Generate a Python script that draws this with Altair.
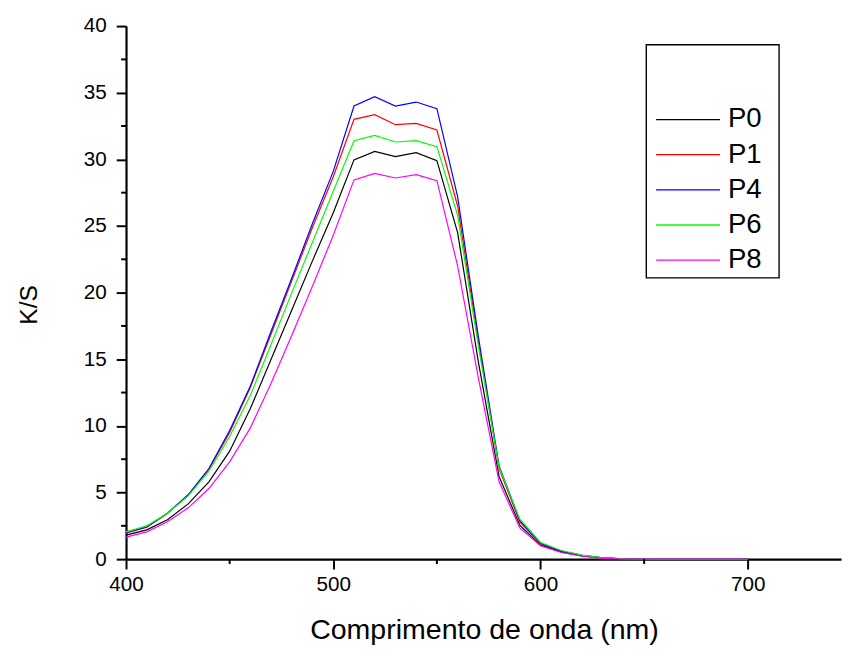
import altair as alt
import pandas as pd

wavelength = list(range(400, 701, 10))
series = ["P0", "P1", "P4", "P6", "P8"]
colors = ["#000000", "#ff0000", "#0000ff", "#00ff00", "#ff00ff"]

p0 = [1.8, 2.2, 2.95, 4.15, 5.8, 8.1, 11.3, 15.0, 18.7, 22.4, 26.0, 29.96, 30.6, 30.2, 30.5, 29.9,
      24.5, 14.8, 6.2, 2.55, 1.05, 0.55, 0.25, 0.08, 0.02, 0.01, 0, 0, 0, 0, 0]
p1 = [1.95, 2.4, 3.45, 4.8, 6.75, 9.5, 12.9, 16.9, 20.9, 24.9, 28.7, 33.0, 33.35, 32.6, 32.7, 32.2,
      26.5, 16.3, 6.8, 2.8, 1.15, 0.6, 0.28, 0.09, 0.02, 0.01, 0, 0, 0, 0, 0]
p4 = [2.0, 2.42, 3.45, 4.83, 6.8, 9.65, 13.0, 17.1, 21.1, 25.2, 29.1, 34.0, 34.7, 34.0, 34.3, 33.8,
      27.2, 16.7, 7.0, 2.9, 1.2, 0.6, 0.28, 0.09, 0.02, 0.01, 0, 0, 0, 0, 0]
p6 = [2.05, 2.5, 3.45, 4.75, 6.6, 9.2, 12.3, 16.1, 20.0, 23.8, 27.6, 31.4, 31.8, 31.3, 31.4, 30.95,
      25.8, 16.0, 6.9, 3.0, 1.25, 0.65, 0.3, 0.1, 0.03, 0.01, 0, 0, 0, 0, 0]
p8 = [1.65, 2.05, 2.8, 3.85, 5.3, 7.3, 9.85, 13.2, 16.8, 20.5, 24.3, 28.46, 28.95, 28.6, 28.85, 28.4,
      22.0, 13.6, 5.8, 2.35, 1.0, 0.5, 0.22, 0.06, 0.01, 0, 0, 0, 0, 0, 0]
values = {"P0": p0, "P1": p1, "P4": p4, "P6": p6, "P8": p8}

x_ticks = [400, 500, 600, 700]
x_minor = [450, 550, 650]
y_ticks = [0, 5, 10, 15, 20, 25, 30, 35, 40]
y_minor = [2.5, 7.5, 12.5, 17.5, 22.5, 27.5, 32.5, 37.5]

rows = []
for s in series:
    for w, v in zip(wavelength, values[s]):
        rows.append({"nm": w, "ks": v, "series": s})
df = pd.DataFrame(rows)

FONT = "Liberation Sans"
W, H = 727, 542

xscale = alt.Scale(domain=[400, 745], nice=False, zero=False)
yscale = alt.Scale(domain=[0, 40], nice=False)
cscale = alt.Scale(domain=series, range=colors)

xaxis = alt.Axis(values=x_ticks, tickSize=10, tickWidth=2, tickColor="black",
                 domainWidth=2.2, domainColor="black", labelFontSize=21, labelFont=FONT,
                 labelColor="black", labelPadding=5, labelFlush=False, grid=False,
                 title="Comprimento de onda (nm)", titleFont=FONT, titleFontSize=29,
                 titleFontWeight="normal", titleColor="black", titleX=364, titleY=72,
                 titleBaseline="middle", titleAlign="center")
yaxis = alt.Axis(values=y_ticks, tickSize=10, tickWidth=2, tickColor="black",
                 domainWidth=2.2, domainColor="black", labelFontSize=21, labelFont=FONT,
                 labelColor="black", labelPadding=10, grid=False,
                 title="K/S", titleFont=FONT, titleFontSize=25, titleFontWeight="normal",
                 titleColor="black", titleX=-99, titleY=283, titleAngle=270,
                 titleBaseline="middle", titleAlign="center")

lines = alt.Chart(df).mark_line(strokeWidth=1.2).encode(
    x=alt.X("nm:Q", scale=xscale, axis=xaxis),
    y=alt.Y("ks:Q", scale=yscale, axis=yaxis),
    color=alt.Color("series:N", scale=cscale, legend=None),
)

xminor = alt.Chart(pd.DataFrame({"nm": x_minor})).mark_rule(strokeWidth=2, color="black").encode(
    x=alt.X("nm:Q", scale=xscale),
    y=alt.value(H), y2=alt.value(H + 5),
)
yminor = alt.Chart(pd.DataFrame({"ks": y_minor})).mark_rule(strokeWidth=2, color="black").encode(
    y=alt.Y("ks:Q", scale=yscale),
    x=alt.value(0), x2=alt.value(-5),
)

main = alt.layer(lines, xminor, yminor)

leg_df = pd.DataFrame({"series": series})
legscale = alt.Scale(type="point", domain=series, range=[95, 238], padding=0)

box = alt.Chart(pd.DataFrame({"b": [0]})).mark_rect(
    fillOpacity=0, stroke="black", strokeWidth=1.4
).encode(x=alt.value(529), x2=alt.value(664), y=alt.value(19), y2=alt.value(256))

leg_lines = alt.Chart(leg_df).mark_rule(strokeWidth=1.3).encode(
    x=alt.value(539), x2=alt.value(604),
    y=alt.Y("series:N", scale=legscale, axis=None),
    color=alt.Color("series:N", scale=cscale, legend=None),
)
leg_text = alt.Chart(leg_df).mark_text(
    align="left", baseline="middle", fontSize=28, font=FONT, color="black"
).encode(
    x=alt.value(612),
    y=alt.Y("series:N", scale=legscale, axis=None),
    text="series:N",
)
legend = alt.layer(box, leg_lines, leg_text)

chart = alt.layer(main, legend).resolve_scale(y="independent").properties(
    width=W, height=H,
    padding={"left": 120, "top": 13, "right": 2, "bottom": 88},
    autosize=alt.AutoSizeParams(type="none"),
).configure(font=FONT).configure_view(stroke="transparent")

chart.save("out.html", embed_options={"renderer": "svg", "actions": False})
